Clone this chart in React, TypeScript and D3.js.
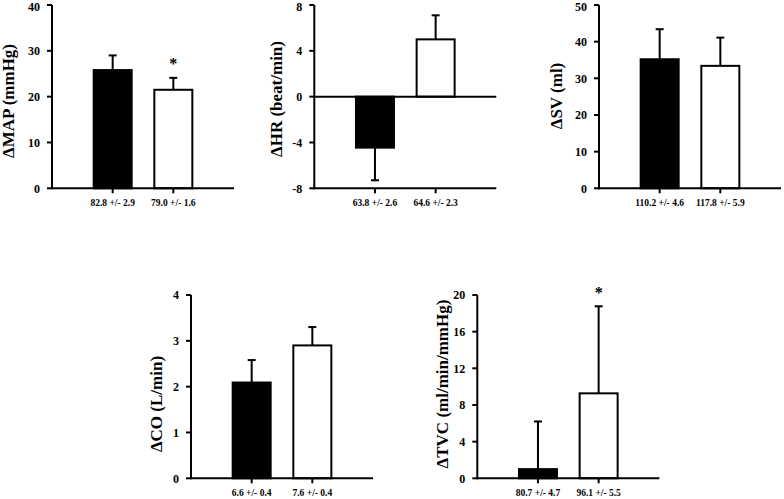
import React from "react";
import * as d3 from "d3";

// ---- data ----
const mapValues = [25.8, 21.5];
const mapErrors = [3.2, 2.6];
const mapGroups = ["82.8 +/- 2.9", "79.0 +/- 1.6"];
const mapTicks = [0, 10, 20, 30, 40];

const hrValues = [-4.45, 5.0];
const hrErrors = [2.85, 2.1];
const hrGroups = ["63.8 +/- 2.6", "64.6 +/- 2.3"];
const hrTicks = [-8, -4, 0, 4, 8];

const svValues = [35.2, 33.4];
const svErrors = [8.2, 7.7];
const svGroups = ["110.2 +/- 4.6", "117.8 +/- 5.9"];
const svTicks = [0, 10, 20, 30, 40, 50];

const coValues = [2.09, 2.9];
const coErrors = [0.49, 0.4];
const coGroups = ["6.6 +/- 0.4", "7.6 +/- 0.4"];
const coTicks = [0, 1, 2, 3, 4];

const tvcValues = [1.0, 9.27];
const tvcErrors = [5.2, 9.5];
const tvcGroups = ["80.7 +/- 4.7", "96.1 +/- 5.5"];
const tvcTicks = [0, 4, 8, 12, 16, 20];

const barFills = ["#000000", "#ffffff"];

type PanelProps = {
  axisX: number;
  top: number;
  bottom: number;
  values: number[];
  errors: number[];
  groups: string[];
  ticks: number[];
  label: string;
  labelX: number;
  labelY: number;
  star?: number;
  starY?: number;
};

const FONT = "'Liberation Serif', 'Times New Roman', serif";

function Panel(p: PanelProps) {
  const yMin = p.ticks[0];
  const yMax = p.ticks[p.ticks.length - 1];
  const y = d3.scaleLinear().domain([yMin, yMax]).range([p.bottom, p.top]);
  const x = d3.scaleLinear().domain([0, 3]).range([p.axisX, p.axisX + 182]);
  const bw = 38;
  return (
    <g>
      {p.values.map((v, i) => {
        const cx = x(i + 1);
        const y0 = y(0);
        const y1 = y(v);
        return (
          <rect
            key={"b" + i}
            x={cx - bw / 2}
            y={Math.min(y0, y1)}
            width={bw}
            height={Math.abs(y1 - y0)}
            fill={barFills[i]}
            stroke="#000"
            strokeWidth={2}
          />
        );
      })}
      {p.values.map((v, i) => {
        const cx = x(i + 1);
        const e = v >= 0 ? v + p.errors[i] : v - p.errors[i];
        return (
          <g key={"e" + i} stroke="#000" strokeWidth={2}>
            <line x1={cx} x2={cx} y1={y(v)} y2={y(e)} />
            <line x1={cx - 4} x2={cx + 4} y1={y(e)} y2={y(e)} />
          </g>
        );
      })}
      {yMin < 0 && (
        <line x1={x(0)} x2={x(3)} y1={y(0)} y2={y(0)} stroke="#000" strokeWidth={2} />
      )}
      <line x1={x(0)} x2={x(3)} y1={p.bottom} y2={p.bottom} stroke="#000" strokeWidth={2} />
      {p.groups.map((g, i) => (
        <g key={"g" + i}>
          <line x1={x(i + 1)} x2={x(i + 1)} y1={p.bottom} y2={p.bottom + 5} stroke="#000" strokeWidth={2} />
          <text
            x={x(i + 1)}
            y={p.bottom + 17.5}
            textAnchor="middle"
            fontFamily={FONT}
            fontWeight="bold"
            fontSize={9.5}
          >
            {g}
          </text>
        </g>
      ))}
      <line x1={p.axisX} x2={p.axisX} y1={p.top} y2={p.bottom + 1} stroke="#000" strokeWidth={2} />
      {p.ticks.map((t) => (
        <g key={"t" + t}>
          <line x1={p.axisX - 5} x2={p.axisX} y1={y(t)} y2={y(t)} stroke="#000" strokeWidth={2} />
          <text
            x={p.axisX - 12}
            y={Math.max(y(t) + 4.2, 11)}
            textAnchor="end"
            fontFamily={FONT}
            fontWeight="bold"
            fontSize={12}
          >
            {t}
          </text>
        </g>
      ))}
      <text
        transform={`translate(${p.labelX},${p.labelY}) rotate(-90)`}
        textAnchor="middle"
        fontFamily={FONT}
        fontWeight="bold"
        fontSize={17}
      >
        {p.label}
      </text>
      {p.star !== undefined && (
        <text
          x={x(p.star + 1)}
          y={p.starY}
          textAnchor="middle"
          fontFamily={FONT}
          fontWeight="bold"
          fontSize={16}
        >
          *
        </text>
      )}
    </g>
  );
}

export default function App() {
  return (
    <svg
      width={784}
      height={499}
      style={{ position: "absolute", left: 0, top: 0, background: "#fff" }}
    >
      <rect width={784} height={499} fill="#fff" />
      <Panel axisX={52} top={5} bottom={188.3} values={mapValues} errors={mapErrors} groups={mapGroups}
        ticks={mapTicks} label="ΔMAP (mmHg)" labelX={14} labelY={101} star={1} starY={69} />
      <Panel axisX={314.3} top={5} bottom={188.3} values={hrValues} errors={hrErrors} groups={hrGroups}
        ticks={hrTicks} label="ΔHR (beat/min)" labelX={282} labelY={99} />
      <Panel axisX={599} top={5} bottom={188.3} values={svValues} errors={svErrors} groups={svGroups}
        ticks={svTicks} label="ΔSV (ml)" labelX={562} labelY={96} />
      <Panel axisX={191} top={295} bottom={478.3} values={coValues} errors={coErrors} groups={coGroups}
        ticks={coTicks} label="ΔCO (L/min)" labelX={162} labelY={404} />
      <Panel axisX={477.3} top={295} bottom={478.3} values={tvcValues} errors={tvcErrors} groups={tvcGroups}
        ticks={tvcTicks} label="ΔTVC (ml/min/mmHg)" labelX={448} labelY={384} star={1} starY={298} />
    </svg>
  );
}
